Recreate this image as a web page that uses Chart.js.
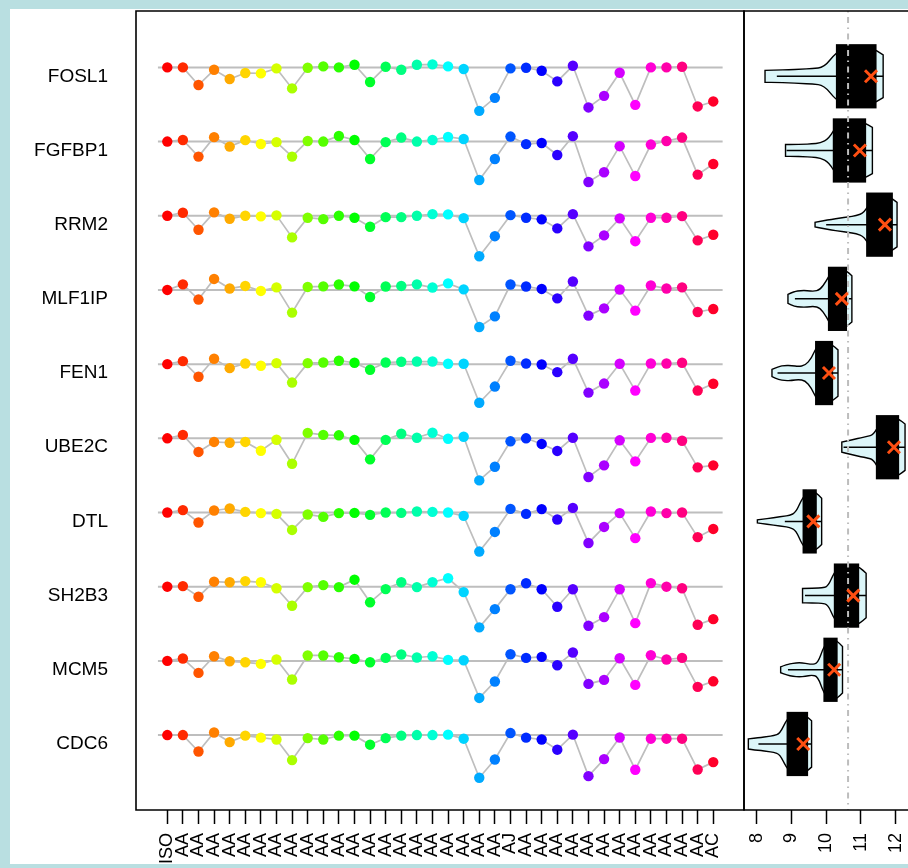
<!DOCTYPE html>
<html>
<head>
<meta charset="utf-8">
<script src="https://cdn.jsdelivr.net/npm/chart.js@4.4.1/dist/chart.umd.min.js"></script>
<style>
  html, body { margin: 0; padding: 0; background: #fff; }
  #wrap { position: relative; width: 908px; height: 868px; overflow: hidden; background: #fff; }
  #wrap canvas { position: absolute; left: 0; top: 0; }
  #frame {
    position: absolute; left: 0; top: 0; width: 908px; height: 868px; box-sizing: border-box;
    border-left: 10px solid #b9dfe1; border-top: 9px solid #b9dfe1; border-bottom: 4px solid #b9dfe1;
    pointer-events: none;
  }
</style>
</head>
<body>
<div id="wrap">
  <canvas id="profile" width="908" height="868"></canvas>
  <canvas id="violins" width="908" height="868"></canvas>
  <div id="frame"></div>
</div>
<script>
const geneNames = ["FOSL1", "FGFBP1", "RRM2", "MLF1IP", "FEN1", "UBE2C", "DTL", "SH2B3", "MCM5", "CDC6"];

const sampleLabels = ["ISO", "AA", "AA", "AA", "AA", "AA", "AA", "AA", "AA", "AA", "AA", "AA",
  "AA", "AA", "AA", "AA", "AA", "AA", "AA", "AA", "AA", "AA", "AJ", "AA",
  "AA", "AA", "AA", "AA", "AA", "AA", "AA", "AA", "AA", "AA", "AA", "AC"];

// relative expression per sample (0 = row reference line)
const FOSL1 = [0, 0, -0.88, -0.12, -0.58, -0.28, -0.30, -0.05, -1.05, -0.02, 0.05, 0, 0.13, -0.73, 0.03, -0.12, 0.13, 0.15, 0.05, -0.08, -2.17, -1.52, -0.05, -0.02, -0.17, -0.70, 0.08, -2.00, -1.42, -0.27, -1.87, 0, 0, 0.03, -1.95, -1.70];
const FGFBP1 = [0, 0.08, -0.75, 0.22, -0.25, 0.07, -0.12, -0.03, -0.75, 0.03, 0, 0.28, 0.08, -0.87, -0.03, 0.20, 0, 0.08, 0.23, 0.13, -1.92, -0.87, 0.25, -0.13, -0.07, -0.67, 0.27, -2.02, -1.53, -0.23, -1.72, -0.15, 0.03, 0.20, -1.65, -1.12];
const RRM2 = [0, 0.15, -0.70, 0.17, -0.15, 0, -0.03, 0.02, -1.08, -0.10, -0.17, 0, -0.10, -0.55, -0.07, -0.07, 0, 0.08, 0.07, -0.12, -2.02, -1.02, 0.03, -0.10, -0.18, -0.63, 0.08, -1.53, -0.98, -0.13, -1.27, -0.10, -0.10, -0.02, -1.23, -0.95];
const MLF1IP = [0, 0.28, -0.48, 0.55, 0.07, 0.20, -0.05, 0.13, -1.13, 0.15, 0.18, 0.27, 0.18, -0.35, 0.17, 0.20, 0.28, 0.12, 0.33, 0.03, -1.85, -1.32, 0.27, 0.17, 0.05, -0.42, 0.42, -1.28, -0.92, 0.02, -1.03, 0.22, 0.07, 0.13, -1.10, -0.95];
const FEN1 = [0, 0.15, -0.63, 0.27, -0.20, 0.03, -0.08, 0.05, -0.92, 0.05, 0.08, 0.17, 0.07, -0.28, 0.08, 0.12, 0.13, 0.13, 0.02, 0.02, -1.93, -1.12, 0.17, 0.03, -0.02, -0.40, 0.27, -1.42, -0.97, 0.02, -1.32, 0.03, 0.03, 0.07, -1.32, -0.98];
const UBE2C = [0, 0.17, -0.68, -0.18, -0.22, -0.18, -0.62, -0.07, -1.27, 0.27, 0.17, 0.15, -0.08, -1.05, -0.08, 0.23, 0.03, 0.28, -0.02, 0.08, -2.10, -1.42, -0.15, 0, -0.28, -0.63, 0.03, -1.93, -1.35, -0.10, -1.15, 0.02, 0.03, -0.12, -1.45, -1.35];
const DTL = [0, 0.12, -0.50, 0.10, 0.20, 0.03, -0.03, -0.07, -0.87, -0.10, -0.22, -0.03, -0.02, -0.12, 0, -0.02, 0.05, 0.03, 0, -0.17, -1.95, -0.97, 0.18, -0.07, 0.17, -0.35, 0.23, -1.52, -0.72, -0.03, -1.28, 0.05, -0.03, 0, -1.23, -0.82];
const SH2B3 = [0, 0.03, -0.50, 0.25, 0.22, 0.28, 0.22, -0.08, -0.95, -0.02, 0.08, -0.02, 0.35, -0.78, -0.12, 0.22, -0.02, 0.23, 0.42, -0.27, -2.03, -1.12, -0.13, 0.17, -0.13, -1.00, -0.13, -1.95, -1.52, -0.13, -1.82, 0.18, 0, -0.08, -1.90, -1.62];
const MCM5 = [0, 0.12, -0.60, 0.23, -0.02, -0.07, -0.15, 0.07, -0.93, 0.27, 0.27, 0.18, 0.10, -0.07, 0.15, 0.32, 0.17, 0.23, 0.05, 0.03, -1.85, -1.03, 0.33, 0.15, 0.20, -0.22, 0.42, -1.15, -0.95, 0.13, -1.20, 0.28, 0.07, 0.15, -1.30, -1.02];
const CDC6 = [0, 0, -0.82, 0.13, -0.35, -0.03, -0.13, -0.22, -1.25, -0.15, -0.22, -0.03, -0.03, -0.48, -0.15, -0.03, 0, 0, 0.02, -0.18, -2.13, -1.22, 0.10, -0.13, -0.22, -0.73, 0.02, -2.05, -1.20, -0.12, -1.73, -0.18, -0.18, -0.18, -1.72, -1.35];

// expression distribution per gene (same order as geneNames)
const violinMin = [8.24, 8.83, 9.68, 8.90, 8.44, 10.45, 8.02, 9.32, 8.69, 7.76];
const violinMax = [11.64, 11.33, 12.04, 10.74, 10.34, 12.27, 9.87, 11.15, 10.47, 9.58];
const whiskerLow = [8.58, 8.86, 10.00, 9.10, 8.60, 10.50, 8.81, 9.39, 8.90, 8.05];
const quartile1 = [10.28, 10.19, 11.15, 10.05, 9.68, 11.43, 9.32, 10.22, 9.92, 8.86];
const quartile3 = [11.45, 11.15, 11.92, 10.60, 10.20, 12.10, 9.73, 10.95, 10.33, 9.48];
const markerValue = [11.29, 10.97, 11.69, 10.45, 10.08, 11.95, 9.63, 10.78, 10.23, 9.34];
const overallMean = 10.63;
// density at 11 evenly spaced points from min to max
const violinDensity = [
  [0.20, 0.21, 0.22, 0.24, 0.26, 0.30, 0.80, 1.00, 1.00, 0.97, 0.72],
  [0.20, 0.20, 0.21, 0.22, 0.25, 0.40, 0.90, 1.00, 1.00, 0.95, 0.78],
  [0.08, 0.13, 0.18, 0.22, 0.26, 0.30, 0.40, 0.90, 1.00, 0.95, 0.75],
  [0.15, 0.25, 0.28, 0.28, 0.25, 0.30, 0.60, 1.00, 1.00, 0.97, 0.78],
  [0.12, 0.22, 0.26, 0.25, 0.22, 0.25, 0.50, 1.00, 1.00, 0.97, 0.78],
  [0.17, 0.22, 0.27, 0.32, 0.36, 0.42, 0.80, 1.00, 1.00, 0.95, 0.78],
  [0.05, 0.08, 0.11, 0.14, 0.17, 0.20, 0.30, 0.80, 1.00, 1.00, 0.78],
  [0.24, 0.25, 0.25, 0.26, 0.30, 0.80, 1.00, 1.00, 1.00, 0.95, 0.75],
  [0.10, 0.18, 0.22, 0.24, 0.22, 0.18, 0.22, 0.80, 1.00, 1.00, 0.78],
  [0.17, 0.20, 0.22, 0.25, 0.28, 0.35, 0.80, 1.00, 1.00, 0.97, 0.78]
];
const expressionTicks = [8, 9, 10, 11, 12];

const profiles = [FOSL1, FGFBP1, RRM2, MLF1IP, FEN1, UBE2C, DTL, SH2B3, MCM5, CDC6];

// row layout in row units (one gene per unit, top to bottom)
const ROW_MAX = 10.77;
const FIRST_ROW = 0.88;
const BASE_OFFSET = 0.12;
const DROP_SCALE = 0.27;
const BOX_HALF = 0.433;
const VIOLIN_HALF = 0.40;

const FONT = "'Liberation Sans', Arial, Helvetica, sans-serif";
const GRAY = "#bebebe";

// rainbow palette, one hue per sample
const sampleColors = sampleLabels.map((_, i) => `hsl(${i * 360 / sampleLabels.length}, 100%, 50%)`);

Chart.defaults.font.family = FONT;
Chart.defaults.color = "#000";

// fixed axis sizes so both panels line up
function fixHeight(h) {
  return s => { s.height = h; s.paddingLeft = 0; s.paddingRight = 0; s.paddingTop = 0; s.paddingBottom = 0; };
}
function fixWidth(w) {
  return s => { s.width = w; s.paddingLeft = 0; s.paddingRight = 0; s.paddingTop = 0; s.paddingBottom = 0; };
}

const boxPlugin = {
  id: "panelBox",
  afterDraw(chart, args, opts) {
    const { ctx, chartArea: a } = chart;
    ctx.save();
    ctx.strokeStyle = "#000";
    ctx.lineWidth = 1.6;
    ctx.beginPath();
    if (opts.openRight) {
      ctx.moveTo(chart.width + 2, a.top);
      ctx.lineTo(a.left, a.top);
      ctx.lineTo(a.left, a.bottom);
      ctx.lineTo(chart.width + 2, a.bottom);
    } else {
      ctx.rect(a.left, a.top, a.right - a.left, a.bottom - a.top);
    }
    ctx.stroke();
    ctx.restore();
  }
};

const profileDatasets = [];
profiles.forEach((vals, k) => {
  const base = FIRST_ROW + k - BASE_OFFSET;
  profileDatasets.push({
    data: [{ x: -0.6, y: base }, { x: 35.6, y: base }],
    borderColor: GRAY,
    borderWidth: 2,
    pointRadius: 0,
    order: 2
  });
  profileDatasets.push({
    data: vals.map((v, i) => ({ x: i, y: base - v * DROP_SCALE })),
    borderColor: GRAY,
    borderWidth: 1.7,
    pointRadius: 5.2,
    pointBorderWidth: 0,
    pointBackgroundColor: sampleColors,
    pointBorderColor: sampleColors,
    order: 1
  });
});

new Chart(document.getElementById("profile"), {
  type: "line",
  data: { datasets: profileDatasets },
  options: {
    responsive: false,
    animation: false,
    events: [],
    layout: { autoPadding: false, padding: { left: 0, top: 11, right: 164, bottom: 0 } },
    plugins: { legend: { display: false }, tooltip: { enabled: false }, panelBox: {} },
    scales: {
      x: {
        type: "linear",
        min: -2.006,
        max: 36.97,
        afterBuildTicks: s => { s.ticks = sampleLabels.map((_, i) => ({ value: i })); },
        afterFit: fixHeight(58),
        ticks: {
          autoSkip: false, minRotation: 90, maxRotation: 90, padding: 9,
          font: { size: 18 },
          callback: (v, i) => sampleLabels[i]
        },
        grid: { drawOnChartArea: false, drawTicks: true, tickLength: 14, tickColor: "#000", tickWidth: 1.5 },
        border: { display: false }
      },
      y: {
        type: "linear",
        reverse: true,
        min: 0,
        max: ROW_MAX,
        afterBuildTicks: s => { s.ticks = geneNames.map((_, k) => ({ value: FIRST_ROW + k })); },
        afterFit: fixWidth(136),
        ticks: { padding: 28, font: { size: 19 }, callback: (v, i) => geneNames[i] },
        grid: { display: false, drawTicks: false },
        border: { display: false }
      }
    }
  },
  plugins: [boxPlugin]
});

// violin outline, whisker and IQR box per gene
const violinPlugin = {
  id: "violinShapes",
  beforeDatasetsDraw(chart) {
    const { ctx, scales: { x, y } } = chart;
    const halfPx = Math.abs(y.getPixelForValue(VIOLIN_HALF) - y.getPixelForValue(0));
    const boxPx = Math.abs(y.getPixelForValue(BOX_HALF) - y.getPixelForValue(0));
    ctx.save();
    geneNames.forEach((_, k) => {
      const cy = y.getPixelForValue(FIRST_ROW + k);
      const dens = violinDensity[k];
      const n = dens.length;
      const step = (violinMax[k] - violinMin[k]) / (n - 1);
      const top = dens.map((d, i) => ({ x: x.getPixelForValue(violinMin[k] + i * step), y: cy - d * halfPx }));
      const bot = dens.map((d, i) => ({ x: top[i].x, y: cy + d * halfPx })).reverse();

      ctx.beginPath();
      ctx.moveTo(top[0].x, cy);
      smoothThrough(ctx, top);
      smoothThrough(ctx, bot);
      ctx.closePath();
      ctx.fillStyle = "#dcf6f9";
      ctx.fill();
      ctx.strokeStyle = "#000";
      ctx.lineWidth = 1.4;
      ctx.stroke();

      ctx.beginPath();
      ctx.moveTo(x.getPixelForValue(whiskerLow[k]), cy);
      ctx.lineTo(x.getPixelForValue(violinMax[k]), cy);
      ctx.lineWidth = 1.5;
      ctx.stroke();

      const x1 = x.getPixelForValue(quartile1[k]);
      const x3 = x.getPixelForValue(quartile3[k]);
      ctx.fillStyle = "#000";
      ctx.fillRect(x1, cy - boxPx, x3 - x1, boxPx * 2);
    });
    ctx.restore();
  }
};

function smoothThrough(ctx, pts) {
  ctx.lineTo(pts[0].x, pts[0].y);
  for (let i = 1; i < pts.length - 1; i++) {
    const mx = (pts[i].x + pts[i + 1].x) / 2;
    const my = (pts[i].y + pts[i + 1].y) / 2;
    ctx.quadraticCurveTo(pts[i].x, pts[i].y, mx, my);
  }
  ctx.lineTo(pts[pts.length - 1].x, pts[pts.length - 1].y);
}

new Chart(document.getElementById("violins"), {
  type: "line",
  data: {
    datasets: [
      {
        data: [{ x: overallMean, y: 0 }, { x: overallMean, y: ROW_MAX }],
        borderColor: "#bdbdbd",
        borderWidth: 2,
        borderDash: [1.5, 4.5, 6, 4.5],
        pointRadius: 0,
        order: 2
      },
      {
        data: markerValue.map((m, k) => ({ x: m, y: FIRST_ROW + k })),
        showLine: false,
        pointStyle: "crossRot",
        pointRadius: 8.5,
        pointBorderWidth: 3,
        pointBorderColor: "#ff4f12",
        order: 1
      }
    ]
  },
  options: {
    responsive: false,
    animation: false,
    events: [],
    layout: { autoPadding: false, padding: { left: 744, top: 11, right: 0, bottom: 0 } },
    plugins: { legend: { display: false }, tooltip: { enabled: false }, panelBox: { openRight: true } },
    scales: {
      x: {
        type: "linear",
        min: 7.635,
        max: 12.355,
        afterBuildTicks: s => { s.ticks = expressionTicks.map(v => ({ value: v })); },
        afterFit: fixHeight(58),
        ticks: {
          autoSkip: false, minRotation: 90, maxRotation: 90, padding: 9,
          font: { size: 18 },
          callback: v => String(v)
        },
        grid: { drawOnChartArea: false, drawTicks: true, tickLength: 14, tickColor: "#000", tickWidth: 1.5 },
        border: { display: false }
      },
      y: { type: "linear", reverse: true, min: 0, max: ROW_MAX, display: false }
    }
  },
  plugins: [violinPlugin, boxPlugin]
});
</script>
</body>
</html>
